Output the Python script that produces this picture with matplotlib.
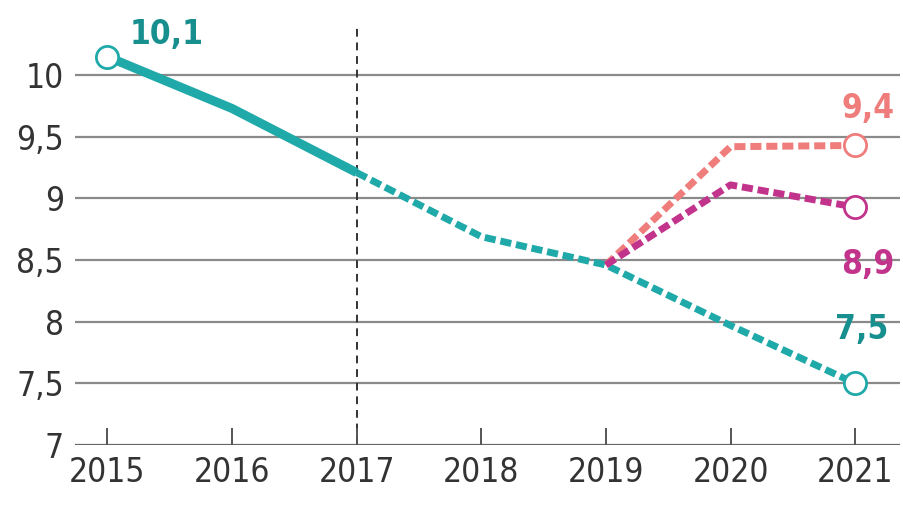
import matplotlib
matplotlib.use('Agg')
from matplotlib import pyplot as plt
from matplotlib import font_manager

years = [2015, 2016, 2017, 2018, 2019, 2020, 2021]
teal_solid_years = [2015, 2016, 2017]
teal_solid_vals = [10.15, 9.73, 9.21]
teal_dash_years = [2017, 2018, 2019, 2020, 2021]
teal_dash_vals = [9.21, 8.69, 8.46, 7.97, 7.5]
salmon_years = [2019, 2020, 2021]
salmon_vals = [8.46, 9.42, 9.43]
magenta_years = [2019, 2020, 2021]
magenta_vals = [8.46, 9.11, 8.93]
y_ticks = [7, 7.5, 8, 8.5, 9, 9.5, 10]
y_labels = ['7', '7,5', '8', '8,5', '9', '9,5', '10']

TEAL = '#1fa9a9'
TEAL_TXT = '#178f8f'
SALMON = '#ee7d7b'
MAGENTA = '#c2338c'

# condensed look for the labels, if the condensed DejaVu files are there
files = [f.fname for f in font_manager.fontManager.ttflist if f.name == 'DejaVu Sans']
cond = [p for p in files if p.endswith('DejaVuSansCondensed.ttf')]
bold_cond = [p for p in files if p.endswith('DejaVuSansCondensed-Bold.ttf')]
tick_font = font_manager.FontProperties(fname=cond[0], size=24) if cond else \
    font_manager.FontProperties(family='DejaVu Sans', size=22)
lbl_font = font_manager.FontProperties(fname=bold_cond[0], size=24) if bold_cond else \
    font_manager.FontProperties(family='DejaVu Sans', weight='bold', size=22)

fig = plt.figure(figsize=(9.04, 5.09), dpi=100)
ax = fig.add_axes([75 / 904, 64 / 509, 825 / 904, 445 / 509])

for y in y_ticks:
    ax.axhline(y, color='#8a8a8a' if y > 7 else '#666666', lw=1.6, zorder=1)
ax.axvline(2017, color='#333333', lw=1.4, ls=(0, (4, 3)), ymax=0.94, zorder=1)

ax.plot(teal_solid_years, teal_solid_vals, color=TEAL, lw=6.5, solid_capstyle='butt', zorder=3)
ax.plot(teal_dash_years, teal_dash_vals, color=TEAL, lw=5, ls=(0, (1.6, 0.7)), zorder=3)
ax.plot(salmon_years, salmon_vals, color=SALMON, lw=5, ls=(0, (1.6, 0.7)), zorder=2)
ax.plot(magenta_years, magenta_vals, color=MAGENTA, lw=5, ls=(0, (1.6, 0.7)), zorder=3)

mk = dict(marker='o', ms=16, mfc='white', mew=2, ls='none', zorder=5)
ax.plot([years[0]], [teal_solid_vals[0]], mec=TEAL, **mk)
ax.plot([years[-1]], [teal_dash_vals[-1]], mec=TEAL, **mk)
ax.plot([years[-1]], [salmon_vals[-1]], mec=SALMON, **mk)
ax.plot([years[-1]], [magenta_vals[-1]], mec=MAGENTA, **mk)

ax.text(2015.18, 10.2, '10,1', color=TEAL_TXT, ha='left', va='bottom', fontproperties=lbl_font)
ax.text(2021.1, 9.6, '9,4', color=SALMON, ha='center', va='bottom', fontproperties=lbl_font)
ax.text(2021.1, 8.6, '8,9', color=MAGENTA, ha='center', va='top', fontproperties=lbl_font)
ax.text(2021.05, 7.8, '7,5', color=TEAL_TXT, ha='center', va='bottom', fontproperties=lbl_font)

ax.set_xlim(2014.74, 2021.36)
ax.set_ylim(7, 10.61)
ax.set_xticks(years)
ax.set_xticklabels([str(y) for y in years])
ax.set_yticks(y_ticks)
ax.set_yticklabels(y_labels)
for t in ax.get_xticklabels() + ax.get_yticklabels():
    t.set_fontproperties(tick_font)
ax.tick_params(axis='x', direction='in', length=12, width=1.4, color='#555555',
               labelcolor='#333333', pad=8)
ax.tick_params(axis='y', length=0, labelcolor='#333333', pad=8)
for s in ax.spines.values():
    s.set_visible(False)

fig.savefig('out.png', dpi=100)
